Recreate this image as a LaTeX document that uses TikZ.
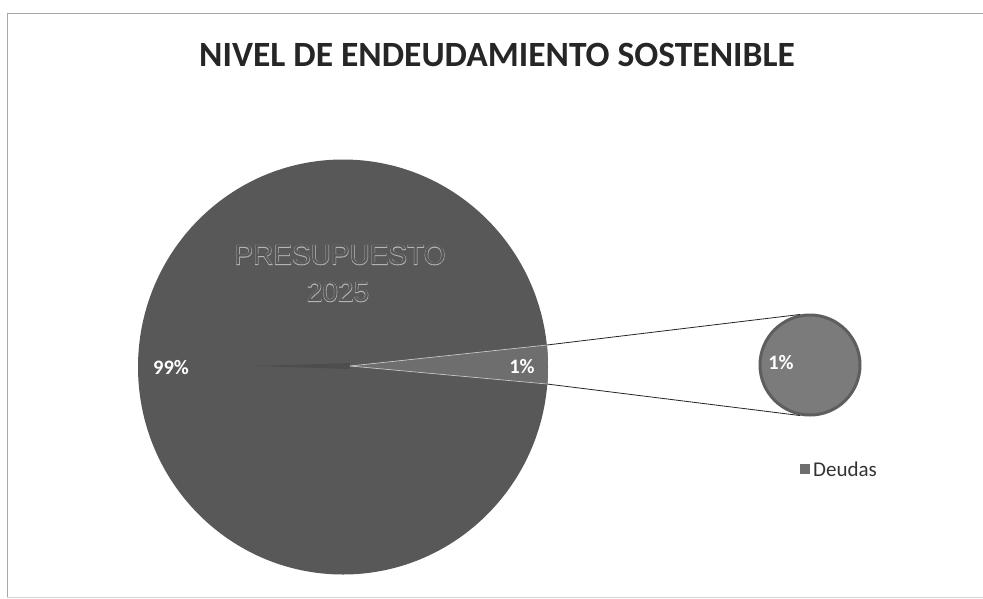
\documentclass[tikz,border=0pt]{standalone}
\usepackage{fontspec}
\setmainfont{Carlito}
\newfontfamily\arialfont{Liberation Sans}
\newfontfamily\arialbold[FakeBold=3]{Liberation Sans}
\definecolor{piegray}{HTML}{585858}
\definecolor{wedgegray}{HTML}{6E6E6E}
\definecolor{smallgray}{HTML}{7B7B7B}
\definecolor{smallring}{HTML}{5E5E5E}
\definecolor{framegray}{HTML}{A8A8A8}
\definecolor{outlinegray}{HTML}{B4B4B4}
\tikzset{
  pctlabel/.style={text=white, font=\fontsize{20.5}{22}\selectfont\bfseries, inner sep=0pt},
  conn/.style={draw=black!85, line width=0.8pt},
}
\begin{document}
\begin{tikzpicture}[x=1pt,y=-1pt]
\useasboundingbox (0,0) rectangle (983,598);
\fill[white] (0,0) rectangle (983,598);
% frame
\draw[framegray, line width=1pt] (7,598) -- (7,13) -- (983,13);
\draw[framegray!50, line width=0.6pt] (7,597) -- (983,597);
% title
\node[font=\fontsize{35.5}{40}\selectfont\bfseries, text=black!85, inner sep=0pt] (title) at (497,55) {NIVEL DE ENDEUDAMIENTO SOSTENIBLE};
% main pie
\fill[piegray] (343,367) ellipse [x radius=205, y radius=207.5];
\coordinate (apex) at (350,366);
\coordinate (wtop) at (547,345);
\coordinate (wbot) at (547,384);
\begin{scope}
  \clip (343,367) ellipse [x radius=205, y radius=207.5];
  \fill[black, opacity=0.12] (255,366) -- (350,363) -- (350,369) -- cycle;
  \fill[wedgegray] (apex) -- (560,343.7) -- (560,385) -- cycle;
\end{scope}
\draw[white!70!wedgegray, line width=0.6pt] (apex) -- (wtop);
\draw[white!70!wedgegray, line width=0.6pt] (apex) -- (wbot);
% outlined text
\node[font=\arialbold\fontsize{28}{30}\selectfont, text=outlinegray, inner sep=0pt] (pres0) at (340,255) {PRESUPUESTO};
\node[font=\arialfont\fontsize{28}{30}\selectfont, text=piegray, inner sep=0pt] (pres) at (340,255) {PRESUPUESTO};
\node[font=\arialbold\fontsize{28}{30}\selectfont, text=outlinegray, inner sep=0pt] (year0) at (338,292) {2025};
\node[font=\arialfont\fontsize{28}{30}\selectfont, text=piegray, inner sep=0pt] (year) at (338,292) {2025};
% labels
\node[pctlabel] (p99) at (171,368) {99\%};
\node[pctlabel] (p1) at (522,367) {1\%};
% secondary circle
\node[circle, fill=smallgray, draw=smallring, line width=3pt, minimum size=100pt, inner sep=0pt] (small) at (810,365) {};
\node[pctlabel] (p1b) at (781,363) {1\%};
% connectors
\draw[conn] (wtop) -- (small.101);
\draw[conn] (wbot) -- (small.259);
% legend
\node[fill=wedgegray, minimum size=10pt, inner sep=0pt] (legsq) at (805,469) {};
\node[anchor=west, font=\fontsize{21}{24}\selectfont, text=black!80, inner sep=0pt] (legtxt) at (813,469) {Deudas};
\end{tikzpicture}
\end{document}
